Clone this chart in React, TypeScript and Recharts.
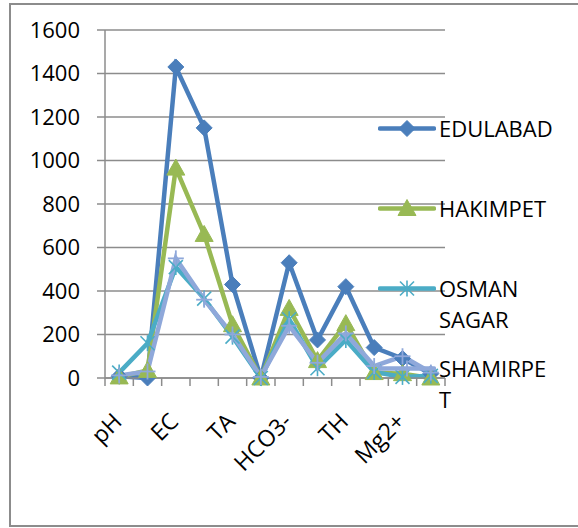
import React from 'react';
import { LineChart, Line, XAxis, YAxis, CartesianGrid, Legend } from 'recharts';

// parameters along the x axis (only every other one gets a label)
const categories = ['pH', 'Turbidity', 'EC', 'TDS', 'TA', 'CO3-', 'HCO3-', 'Cl-', 'TH', 'Ca2+', 'Mg2+', 'F-'];

const edulabad = [8, 0, 1430, 1150, 430, 0, 530, 175, 420, 140, 90, 20];
const hakimpet = [5, 35, 965, 660, 245, 0, 320, 80, 250, 25, 20, 0];
const osmanSagar = [25, 160, 510, 365, 190, 0, 270, 45, 175, 28, 5, 10];
const shamirpet = [12, 30, 550, 360, 200, 5, 240, 70, 205, 55, 100, 25];

const yTicks = [0, 200, 400, 600, 800, 1000, 1200, 1400, 1600];

const seriesNames = ['EDULABAD', 'HAKIMPET', 'OSMAN SAGAR', 'SHAMIRPET'];
const seriesValues = [edulabad, hakimpet, osmanSagar, shamirpet];
const seriesColors = ['#4A7EBB', '#98B954', '#4BACC6', '#8FA8DA'];
const seriesMarkers = ['diamond', 'triangle', 'asterisk', 'plus'];

const data = categories.map((name, i) => {
  const row: Record<string, string | number> = { name };
  seriesNames.forEach((s, k) => {
    row[s] = seriesValues[k][i];
  });
  return row;
});

const GRID = '#8c8c8c';
const FONT = '"Open Sans", sans-serif';

function Marker({ kind, cx, cy, color }: { kind: string; cx: number; cy: number; color: string }) {
  if (kind === 'diamond') {
    return <polygon points={`${cx},${cy - 8} ${cx + 8},${cy} ${cx},${cy + 8} ${cx - 8},${cy}`} fill={color} stroke={color} />;
  }
  if (kind === 'triangle') {
    return <polygon points={`${cx},${cy - 9} ${cx + 9},${cy + 7} ${cx - 9},${cy + 7}`} fill={color} stroke={color} />;
  }
  if (kind === 'asterisk') {
    return (
      <g stroke={color} strokeWidth={1.6}>
        <line x1={cx} y1={cy - 8} x2={cx} y2={cy + 8} />
        <line x1={cx - 7} y1={cy - 7} x2={cx + 7} y2={cy + 7} />
        <line x1={cx - 7} y1={cy + 7} x2={cx + 7} y2={cy - 7} />
      </g>
    );
  }
  return (
    <g stroke={color} strokeWidth={1.8}>
      <line x1={cx} y1={cy - 8} x2={cx} y2={cy + 8} />
      <line x1={cx - 8} y1={cy} x2={cx + 8} y2={cy} />
    </g>
  );
}

const makeDot = (k: number) => (props: any) => {
  const { cx, cy, key } = props;
  if (cx == null || cy == null) return <g key={key} />;
  return (
    <g key={key}>
      <Marker kind={seriesMarkers[k]} cx={cx} cy={cy} color={seriesColors[k]} />
    </g>
  );
};

const XTick = (props: any) => {
  const { x, y, payload, index } = props;
  const half = payload && payload.offset ? payload.offset : 340 / categories.length / 2;
  const last = index === categories.length - 1;
  return (
    <g>
      <line x1={x - half} y1={y} x2={x - half} y2={y + 8} stroke={GRID} strokeWidth={1.5} />
      {last && <line x1={x + half} y1={y} x2={x + half} y2={y + 8} stroke={GRID} strokeWidth={1.5} />}
      {index % 2 === 0 && (
        <text
          x={x + 4}
          y={y + 45}
          textAnchor="end"
          transform={`rotate(-45, ${x + 4}, ${y + 45})`}
          fontSize={23}
          fontFamily={FONT}
          fill="#000"
        >
          {payload.value}
        </text>
      )}
    </g>
  );
};

const LegendContent = () => (
  <div style={{ fontFamily: FONT }}>
    {seriesNames.map((name, k) => (
      <div key={name} style={{ height: 80, display: 'flex', alignItems: 'flex-start' }}>
        <svg width={58} height={31} style={{ flex: 'none' }}>
          <line x1={2} y1={15.5} x2={56} y2={15.5} stroke={seriesColors[k]} strokeWidth={4.5} strokeLinecap="round" />
          <Marker kind={seriesMarkers[k]} cx={29} cy={15.5} color={seriesColors[k]} />
        </svg>
        <div
          style={{
            width: 115,
            fontSize: 22,
            lineHeight: '31px',
            color: '#000',
            overflowWrap: 'anywhere',
            marginLeft: 3,
          }}
        >
          {name}
        </div>
      </div>
    ))}
  </div>
);

export default function App() {
  return (
    <div style={{ position: 'absolute', left: 9, top: 3, width: 569, height: 524, overflow: 'hidden' }}>
      <div style={{ width: 580, height: 520, border: `2px solid ${GRID}`, background: '#fff' }}>
        <div style={{ fontFamily: FONT }}>
          <LineChart
            width={565}
            height={518}
            data={data}
            margin={{ top: 25, right: 131, bottom: 55, left: 0 }}
          >
            <CartesianGrid horizontal vertical={false} stroke={GRID} strokeWidth={1.5} />
            <XAxis
              dataKey="name"
              scale="band"
              interval={0}
              height={90}
              tickLine={false}
              tickSize={0}
              tickMargin={0}
              axisLine={{ stroke: GRID, strokeWidth: 1.5 }}
              tick={<XTick />}
            />
            <YAxis
              width={94}
              domain={[0, 1600]}
              ticks={yTicks}
              interval={0}
              tickSize={8}
              tickMargin={17}
              tickLine={{ stroke: GRID, strokeWidth: 1.5 }}
              axisLine={{ stroke: GRID, strokeWidth: 1.5 }}
              tick={{ fill: '#000', fontSize: 22, fontFamily: FONT }}
            />
            <Legend
              layout="horizontal"
              verticalAlign="middle"
              align="center"
              wrapperStyle={{ left: 367, top: 108, width: 190 }}
              content={<LegendContent />}
            />
            {seriesNames.map((s, k) => (
              <Line
                key={s}
                dataKey={s}
                name={s}
                type="linear"
                stroke={seriesColors[k]}
                strokeWidth={4.5}
                dot={makeDot(k)}
                activeDot={false}
                isAnimationActive={false}
              />
            ))}
          </LineChart>
        </div>
      </div>
    </div>
  );
}
